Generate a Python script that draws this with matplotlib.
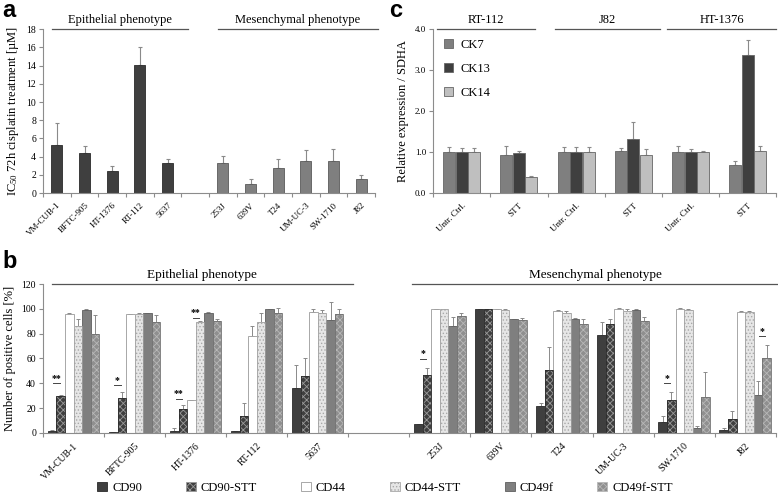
import numpy as np
import matplotlib
matplotlib.use("Agg")
import matplotlib.pyplot as plt
from matplotlib.patches import Patch

plt.rcParams['font.family'] = ['Liberation Serif', 'DejaVu Serif']
plt.rcParams['mathtext.default'] = 'regular'

# ---- panel a : IC50 values ----
a_epi_lines = ["VM-CUB-1", "BFTC-905", "HT-1376", "RT-112", "5637"]
a_epi_vals = [5.25, 4.45, 2.4, 14.1, 3.35]
a_epi_err = [2.4, 0.75, 0.6, 1.9, 0.35]
a_mes_lines = ["253J", "639V", "T24", "UM-UC-3", "SW-1710", "J82"]
a_mes_vals = [3.3, 1.05, 2.8, 3.5, 3.55, 1.5]
a_mes_err = [0.75, 0.45, 0.95, 1.2, 1.3, 0.5]

# ---- panel c : cytokeratin expression ----
c_conditions = ["Untr. Ctrl.", "STT", "Untr. Ctrl.", "STT", "Untr. Ctrl.", "STT"]
c_groups = ["RT-112", "J82", "HT-1376"]
ck7 = [1.0, 0.92, 1.0, 1.03, 1.0, 0.68]
ck7_err = [0.13, 0.22, 0.13, 0.07, 0.15, 0.1]
ck13 = [1.0, 0.97, 1.0, 1.31, 1.0, 3.37]
ck13_err = [0.1, 0.06, 0.13, 0.42, 0.08, 0.37]
ck14 = [1.0, 0.4, 1.0, 0.94, 1.0, 1.03]
ck14_err = [0.1, 0.03, 0.13, 0.14, 0.04, 0.12]

# ---- panel b : surface markers (% positive cells) ----
b_lines = ["VM-CUB-1", "BFTC-905", "HT-1376", "RT-112", "5637", "",
           "253J", "639V", "T24", "UM-UC-3", "SW-1710", "J82"]
b_markers = ["CD90", "CD90-STT", "CD44", "CD44-STT", "CD49f", "CD49f-STT"]
b_vals = [
    [2, 30, 96, 86.5, 99, 80],
    [1, 28, 95.5, 96, 96.5, 89],
    [1.5, 19.3, 26.5, 89, 97, 90.5],
    [1.5, 13.5, 78.5, 89.5, 99.5, 97],
    [36, 46, 97.5, 97, 91, 96],
    [np.nan] * 6,
    [7, 46.5, 99.5, 99.5, 86, 94.5],
    [100, 100, 99.5, 99, 91.5, 91],
    [21.5, 51, 98.5, 97, 92, 88],
    [79, 88, 100, 98.5, 99, 90],
    [9, 26.5, 100, 99, 4, 29],
    [2.7, 11.5, 97.5, 97.5, 30.5, 60],
]
b_errs = [
    [0.3, 0.5, 0.3, 5, 0.5, 15],
    [0.2, 5, 0.3, 1, 0.3, 6],
    [2.5, 3.5, 0.3, 1, 0.5, 1],
    [0.5, 10.5, 7.5, 7.5, 0.5, 3.5],
    [19, 14, 2.5, 2, 14.5, 3.5],
    [0] * 6,
    [0.5, 6, 0.3, 0.3, 7.5, 2],
    [0.2, 0.2, 0.3, 1, 0.5, 1.5],
    [3, 18, 0.5, 1.5, 0.5, 4],
    [10, 4, 0.5, 1, 0.5, 3.5],
    [4.5, 6.5, 0.3, 0.5, 2, 20],
    [1, 6.5, 1, 1, 11, 10.5],
]
# (slot, bar i, bar j, bracket height, label)
b_signif = [(0, 0, 1, 40, "**"), (1, 0, 1, 38.5, "*"), (2, 0, 1, 27.5, "**"),
            (2, 2, 3, 93, "**"), (6, 0, 1, 59.5, "*"), (10, 0, 1, 40, "*"),
            (11, 4, 5, 78, "*")]

AX_GREY = "#8c8c8c"
ERR_GREY = "#8a8a8a"


def style_axis(ax, nslots, labels, ylim, yticks, yfmt, lab_size, tick_size):
    ax.set_xlim(0, nslots)
    ax.set_ylim(*ylim)
    for s in ["top", "right"]:
        ax.spines[s].set_visible(False)
    for s in ["left", "bottom"]:
        ax.spines[s].set_color(AX_GREY)
        ax.spines[s].set_linewidth(0.8)
    ax.set_xticks(np.arange(nslots) + 0.5)
    ax.set_xticklabels(labels, rotation=45, ha="right", rotation_mode="anchor",
                       fontsize=lab_size)
    ax.tick_params(axis="x", which="major", length=0, pad=6)
    ax.set_xticks(np.arange(nslots + 1), minor=True)
    ax.tick_params(axis="x", which="minor", length=3, color=AX_GREY, width=0.8)
    ax.set_yticks(yticks)
    ax.set_yticklabels([yfmt.format(v) for v in yticks], fontsize=tick_size)
    ax.tick_params(axis="y", length=3, color=AX_GREY, width=0.8, pad=2)


def header(ax, x0, x1, y, text, size, dy):
    ax.plot([x0, x1], [y, y], color="#555555", lw=0.9, clip_on=False)
    ax.annotate(text, xy=((x0 + x1) / 2, y), xytext=(0, dy),
                textcoords="offset points", ha="center", va="bottom",
                fontsize=size, annotation_clip=False)


fig = plt.figure(figsize=(7.78, 4.94), dpi=100)

# ================= panel a =================
ax_a = fig.add_axes([0.0553, 0.609, 0.4267, 0.332])
x_epi = np.arange(len(a_epi_lines)) + 0.5
x_mes = np.arange(len(a_mes_lines)) + 6.5
ax_a.bar(x_epi, a_epi_vals, width=0.4, color="#3f3f3f", edgecolor="#2b2b2b", lw=0.6, zorder=2)
ax_a.errorbar(x_epi, a_epi_vals, yerr=[np.zeros(5), a_epi_err], fmt="none",
              ecolor=ERR_GREY, elinewidth=0.8, capsize=1.5, capthick=0.8, zorder=1)
ax_a.bar(x_mes, a_mes_vals, width=0.4, color="#7f7f7f", edgecolor="#5a5a5a", lw=0.6, zorder=2)
ax_a.errorbar(x_mes, a_mes_vals, yerr=[np.zeros(6), a_mes_err], fmt="none",
              ecolor=ERR_GREY, elinewidth=0.8, capsize=1.5, capthick=0.8, zorder=1)
style_axis(ax_a, 12, a_epi_lines + [""] + a_mes_lines, (0, 18), np.arange(0, 19, 2),
           "{:.0f}", 6.5, 7)
ax_a.set_ylabel("IC$_{50}$ 72h cisplatin treatment [µM]", fontsize=9, labelpad=4)
header(ax_a, 0.33, 5.24, 18, "Epithelial phenotype", 9, 2)
header(ax_a, 6.32, 12.1, 18, "Mesenchymal phenotype", 9, 2)

# ================= panel c =================
ax_c = fig.add_axes([0.5566, 0.609, 0.4414, 0.332])
xc = np.arange(len(c_conditions)) + 0.5
w_c = 0.21
for off, vals, errs, col, lab in [(-0.22, ck7, ck7_err, "#7f7f7f", "CK7"),
                                   (0.0, ck13, ck13_err, "#3f3f3f", "CK13"),
                                   (0.22, ck14, ck14_err, "#bfbfbf", "CK14")]:
    ax_c.bar(xc + off, vals, width=w_c, color=col, edgecolor="#666666", lw=0.6,
             label=lab, zorder=2)
    ax_c.errorbar(xc + off, vals, yerr=[np.zeros(6), errs], fmt="none",
                  ecolor=ERR_GREY, elinewidth=0.8, capsize=1.5, capthick=0.8, zorder=1)
style_axis(ax_c, 6, c_conditions, (0, 4), np.arange(0, 4.1, 1.0), "{:.1f}", 6.5, 6.5)
ax_c.set_ylabel("Relative expression / SDHA", fontsize=9, labelpad=4)
ax_c.legend(loc="upper left", bbox_to_anchor=(0.0, 1.01), frameon=False, fontsize=9,
            handlelength=0.7, handleheight=0.7, labelspacing=0.95, handletextpad=0.6)
header(ax_c, 0.07, 1.78, 4, c_groups[0], 9, 2)
header(ax_c, 2.13, 3.96, 4, c_groups[1], 9, 2)
header(ax_c, 4.08, 6.0, 4, c_groups[2], 9, 2)

# ================= panel b =================
ax_b = fig.add_axes([0.0553, 0.1235, 0.9417, 0.3016])
w_b = 0.14
b_face = ["#3f3f3f", "#3f3f3f", "#ffffff", "#e6e6e6", "#7f7f7f", "#8f8f8f"]
b_hatch = [None, "xxxxx", None, ".....", None, "xxxxx"]
b_hcol = [None, "#9a9a9a", None, "#a8a8a8", None, "#b8b8b8"]
b_edge = ["#2b2b2b", "#2b2b2b", "#9a9a9a", "#a0a0a0", "#5f5f5f", "#6f6f6f"]
vals = np.array(b_vals, dtype=float)
errs = np.array(b_errs, dtype=float)
xb = np.arange(len(b_lines)) + 0.5
plt.rcParams['hatch.linewidth'] = 0.6
handles = []
for i, name in enumerate(b_markers):
    xi = xb + (i - 2.5) * w_b
    if b_hatch[i]:
        ax_b.bar(xi, vals[:, i], width=w_b, color=b_face[i], edgecolor=b_hcol[i],
                 hatch=b_hatch[i], lw=0, zorder=2)
        ax_b.bar(xi, vals[:, i], width=w_b, fill=False, edgecolor=b_edge[i], lw=0.6, zorder=3)
    else:
        ax_b.bar(xi, vals[:, i], width=w_b, color=b_face[i], edgecolor=b_edge[i],
                 lw=0.6, zorder=2)
    ax_b.errorbar(xi, vals[:, i], yerr=[np.zeros(len(xi)), errs[:, i]], fmt="none",
                  ecolor=ERR_GREY, elinewidth=0.7, capsize=1.2, capthick=0.7, zorder=1)
    handles.append(Patch(facecolor=b_face[i], edgecolor=b_hcol[i] or b_edge[i],
                         hatch=b_hatch[i], lw=0.6, label=name))
style_axis(ax_b, 12, b_lines, (0, 120), np.arange(0, 121, 20), "{:.0f}", 7, 7)
ax_b.set_ylabel("Number of positive cells [%]", fontsize=9, labelpad=4)
header(ax_b, 0.15, 5.07, 120, "Epithelial phenotype", 9.5, 2)
header(ax_b, 6.05, 12.03, 120, "Mesenchymal phenotype", 9.5, 2)

for slot, i, j, h, lab in b_signif:
    x0 = xb[slot] + (i - 2.5) * w_b
    x1 = xb[slot] + (j - 2.5) * w_b
    ax_b.plot([x0 + 0.02, x1 - 0.02], [h, h], color="#444444", lw=0.7, zorder=4)
    ax_b.text((x0 + x1) / 2, h + 0.5, lab, ha="center", va="bottom", fontsize=7,
              fontweight="bold", zorder=4)

fig.legend(handles=handles, loc="center", bbox_to_anchor=(0.495, 0.013), ncol=6,
           frameon=False, fontsize=9, handlelength=0.8, handleheight=0.8,
           handletextpad=0.4, columnspacing=3.5, borderpad=0.1)

# panel letters
for txt, x, y in [("a", 0.003, 0.978), ("c", 0.5, 0.978), ("b", 0.003, 0.47)]:
    fig.text(x, y, txt, fontsize=17, fontweight="bold", family="Liberation Sans",
             ha="left", va="center")

fig.savefig("out.png", dpi=100)
